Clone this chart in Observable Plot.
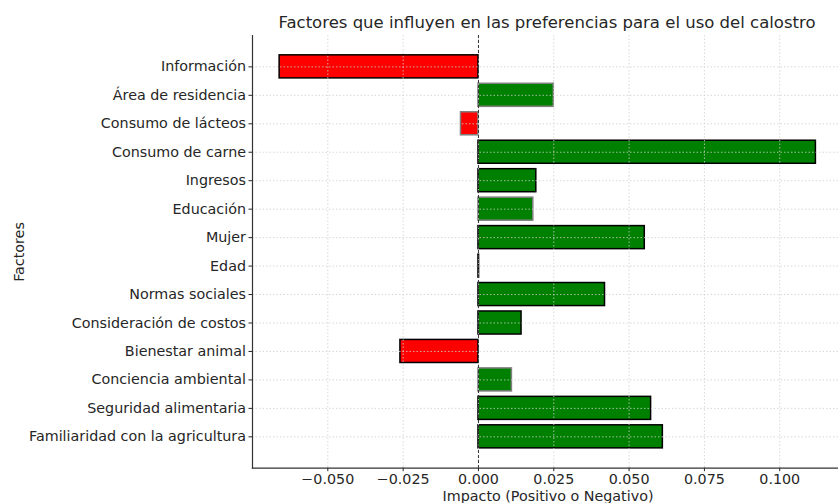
<!DOCTYPE html>
<html>
<head>
<meta charset="utf-8">
<script src="https://cdn.jsdelivr.net/npm/d3@7"></script>
<script src="https://cdn.jsdelivr.net/npm/@observablehq/plot@0.6"></script>
<style>
  html, body { margin: 0; padding: 0; background: #fff; }
  #wrap { width: 838px; height: 503px; position: relative; font-family: "DejaVu Sans", sans-serif; overflow: hidden; }
  #title { height: 32px; position: relative; font-size: 16.5px; line-height: 17px; color: #262626; white-space: nowrap; }
  #title span { position: absolute; left: 547px; transform: translateX(-50%); top: 14px; }
</style>
</head>
<body>
<div id="wrap">
  <div id="title"><span>Factores que influyen en las preferencias para el uso del calostro</span></div>
  <div id="chart"></div>
</div>
<script>
const factores = [
  "Información",
  "Área de residencia",
  "Consumo de lácteos",
  "Consumo de carne",
  "Ingresos",
  "Educación",
  "Mujer",
  "Edad",
  "Normas sociales",
  "Consideración de costos",
  "Bienestar animal",
  "Conciencia ambiental",
  "Seguridad alimentaria",
  "Familiaridad con la agricultura"
];
const impactos = [-0.066, 0.025, -0.0058, 0.112, 0.0192, 0.0182, 0.0552, 0.0002, 0.042, 0.0143, -0.0259, 0.0111, 0.0573, 0.0612];
const bordes = ["black", "gray", "gray", "black", "black", "gray", "black", "black", "black", "black", "black", "gray", "black", "black"];
const xTicks = [-0.05, -0.025, 0, 0.025, 0.05, 0.075, 0.1];

const data = factores.map((f, i) => ({factor: f, impacto: impactos[i], borde: bordes[i]}));

const chart = Plot.plot({
  width: 838,
  height: 471,
  marginLeft: 252,
  marginRight: 0,
  marginTop: 3,
  marginBottom: 35.3,
  style: {fontFamily: "DejaVu Sans, sans-serif", fontSize: "14.3px", color: "#262626", background: "#fff"},
  x: {domain: [-0.075, 0.1195]},
  y: {domain: factores, paddingInner: 0.19, paddingOuter: 0.697, round: false},
  color: {type: "identity"},
  marks: [
    Plot.barX(data, {
      y: "factor",
      x: "impacto",
      fill: d => d.impacto >= 0 ? "#008000" : "#ff0000",
      stroke: d => d.borde === "gray" ? "#808080" : "#000000",
      strokeWidth: 1.5
    }),
    Plot.ruleX(xTicks, {stroke: "#cfcfcf", strokeWidth: 0.8, strokeDasharray: "1.5,2"}),
    Plot.ruleY(factores, {y: d => d, stroke: "#cfcfcf", strokeWidth: 0.8, strokeDasharray: "1.5,2"}),
    Plot.ruleX([0], {stroke: "#333", strokeWidth: 1, strokeDasharray: "3,2"}),
    Plot.frame({anchor: "left", stroke: "#333", strokeWidth: 1.2}),
    Plot.frame({anchor: "bottom", stroke: "#333", strokeWidth: 1.2}),
    Plot.axisX({
      ticks: xTicks,
      tickFormat: d3.format(".3f"),
      tickSize: 3.5,
      tickPadding: 2.5,
      label: null,
      fontSize: 14.3
    }),
    Plot.axisY({
      tickSize: 3.5,
      tickPadding: 3,
      label: null,
      fontSize: 14.3
    }),
    Plot.text(["Impacto (Positivo o Negativo)"], {
      frameAnchor: "bottom", dy: 33, dx: 2.5, fontSize: 14.3, fill: "#262626"
    }),
    Plot.text(["Factores"], {
      frameAnchor: "left", dx: -233, dy: 30, rotate: -90, fontSize: 14.3, fill: "#262626"
    })
  ]
});
document.getElementById("chart").appendChild(chart);
</script>
</body>
</html>
